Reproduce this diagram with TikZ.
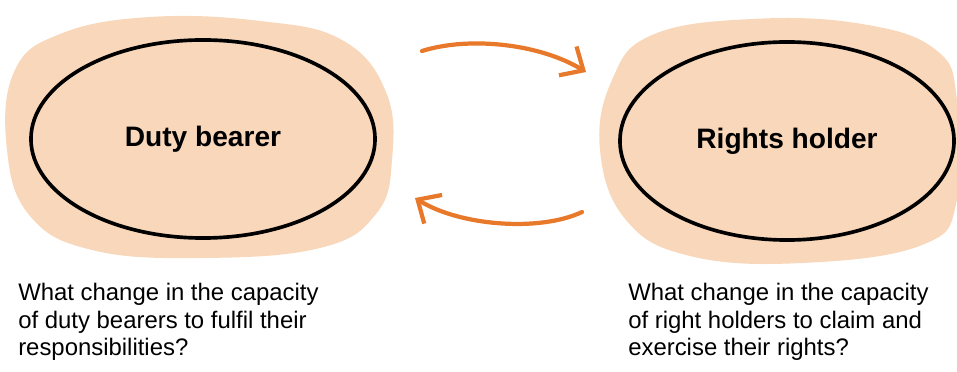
\documentclass[tikz,border=0pt]{standalone}
\usepackage{fontspec}
\setmainfont{Liberation Sans}
\usepackage{tikz}
\usetikzlibrary{arrows.meta,shapes.geometric,positioning}
\definecolor{peach}{HTML}{F8D7BA}
\definecolor{myorange}{HTML}{E8782A}
\tikzset{
    myblob/.style={fill=peach,draw=none},
    myrole/.style={ellipse,draw=black,line width=2.6pt,inner sep=0pt,font=\fontsize{20}{24}\selectfont\bfseries},
    myarrow/.style={draw=myorange,line width=3pt,line cap=round,-{Straight Barb[length=13pt,width=24pt,line width=3pt]}},
    myquestion/.style={anchor=north west,align=left,inner sep=0pt,font=\fontsize{17}{19.5}\selectfont}
}

\begin{document}
\begin{tikzpicture}[x=0.025cm,y=-0.025cm]
  \useasboundingbox (0,0) rectangle (957,372);
  \fill[myblob] plot[smooth cycle,tension=0.7] coordinates {(14,72) (60,34) (150,17) (260,21) (342,40) (386,92) (392,160) (376,214) (320,248) (200,258) (92,250) (30,216) (7,150)};
  \fill[myblob] plot[smooth cycle,tension=0.7] coordinates {(612,80) (652,35) (752,19) (862,24) (936,50) (957,100) (957,200) (922,245) (802,263) (690,256) (626,220) (600,150)};
  \node[myrole,minimum width=8.6cm,minimum height=4.95cm] (duty) at (203,139) {Duty bearer};
  \node[myrole,minimum width=8.35cm,minimum height=4.95cm] (rights) at (787,141) {Rights holder};
  \coordinate (topstart) at (422,51);
  \coordinate (topend) at (586,72);
  \coordinate (botstart) at (582,212);
  \coordinate (botend) at (415,198);
  \draw[myarrow] (topstart) .. controls (470,36) and (540,44) .. (topend);
  \draw[myarrow] (botstart) .. controls (540,232) and (460,226) .. (botend);
  \node[myquestion] (dutyq) at (18,283) {What change in the capacity\\of duty bearers to fulfil their\\responsibilities?};
  \node[myquestion] (rightsq) at (628,283) {What change in the capacity\\of right holders to claim and\\exercise their rights?};
\end{tikzpicture}
\end{document}
